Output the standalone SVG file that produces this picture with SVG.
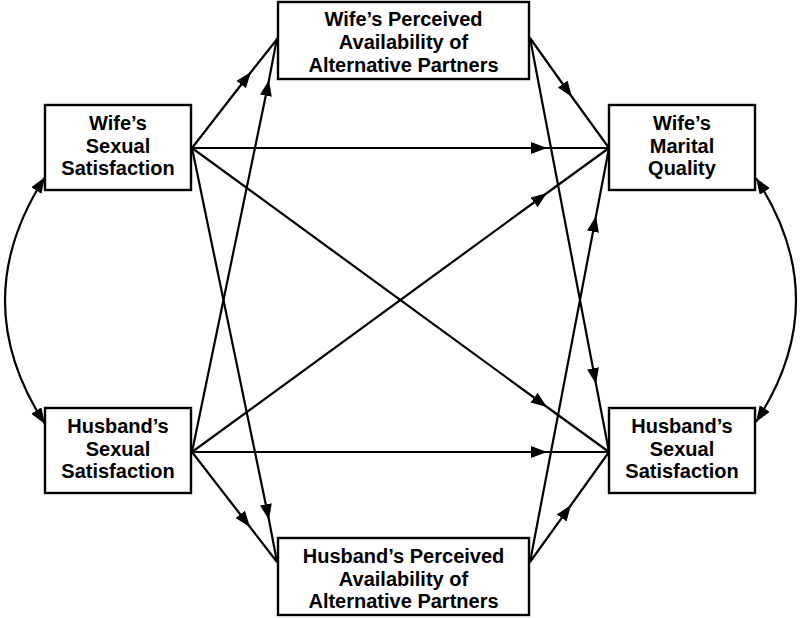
<svg xmlns="http://www.w3.org/2000/svg" width="800" height="618" viewBox="0 0 800 618">
<style>
.box{fill:#fff;stroke:#000;stroke-width:2.4}
.t{font-family:"Liberation Sans",Arial,sans-serif;font-weight:bold;font-size:20px;text-anchor:middle;fill:#000}
.c{fill:none;stroke:#000;stroke-width:2.2}
.m{marker-mid:url(#ah)}
.d{marker-start:url(#ah2);marker-end:url(#ah2)}
</style>
<defs>
<marker id="ah" markerUnits="userSpaceOnUse" markerWidth="17" markerHeight="13" refX="16" refY="6" orient="auto"><path d="M0,0 L16,6 L0,12 z" fill="#000"/></marker>
<marker id="ah2" markerUnits="userSpaceOnUse" markerWidth="17" markerHeight="13" refX="16" refY="6" orient="auto-start-reverse"><path d="M0,0 L16,6 L0,12 z" fill="#000"/></marker>
</defs>
<g id="connectors">
<path class="c m" d="M192,148 L251,72 L278,38"/>
<path class="c m" d="M192,148 L547,148 L609,148"/>
<path class="c m" d="M192,148 L547,407 L609,452"/>
<path class="c m" d="M192,148 L269,520 L277,562"/>
<path class="c m" d="M192,452 L269,80 L277,38"/>
<path class="c m" d="M192,452 L547,193 L609,148"/>
<path class="c m" d="M192,452 L547,452 L609,452"/>
<path class="c m" d="M192,452 L250,527 L277,562"/>
<path class="c m" d="M530,38 L572,97 L609,148"/>
<path class="c m" d="M530,38 L596,384 L609,452"/>
<path class="c m" d="M530,562 L596,216 L609,148"/>
<path class="c m" d="M530,562 L571,505 L609,452"/>
<path class="c d" d="M45,177 Q-35,301 45,424"/>
<path class="c d" d="M756,178 Q836,300 756,422"/>
</g>
<g id="wpa">
<rect class="box" x="278" y="2" width="251" height="77"/>
<text class="t" x="403.5" y="26">Wife’s Perceived</text>
<text class="t" x="403.5" y="49">Availability of</text>
<text class="t" x="403.5" y="72">Alternative Partners</text>
</g>
<g id="wss">
<rect class="box" x="45" y="105" width="146" height="85"/>
<text class="t" x="118" y="130">Wife’s</text>
<text class="t" x="118" y="153">Sexual</text>
<text class="t" x="118" y="175">Satisfaction</text>
</g>
<g id="wmq">
<rect class="box" x="609" y="105" width="146" height="85"/>
<text class="t" x="682" y="130">Wife’s</text>
<text class="t" x="682" y="153">Marital</text>
<text class="t" x="682" y="175">Quality</text>
</g>
<g id="hss">
<rect class="box" x="45" y="408" width="146" height="85"/>
<text class="t" x="118" y="433">Husband’s</text>
<text class="t" x="118" y="456">Sexual</text>
<text class="t" x="118" y="478">Satisfaction</text>
</g>
<g id="hssr">
<rect class="box" x="609" y="408" width="146" height="85"/>
<text class="t" x="682" y="433">Husband’s</text>
<text class="t" x="682" y="456">Sexual</text>
<text class="t" x="682" y="478">Satisfaction</text>
</g>
<g id="hpa">
<rect class="box" x="278" y="538" width="251" height="77"/>
<text class="t" x="403.5" y="563">Husband’s Perceived</text>
<text class="t" x="403.5" y="586">Availability of</text>
<text class="t" x="403.5" y="608">Alternative Partners</text>
</g>
</svg>
